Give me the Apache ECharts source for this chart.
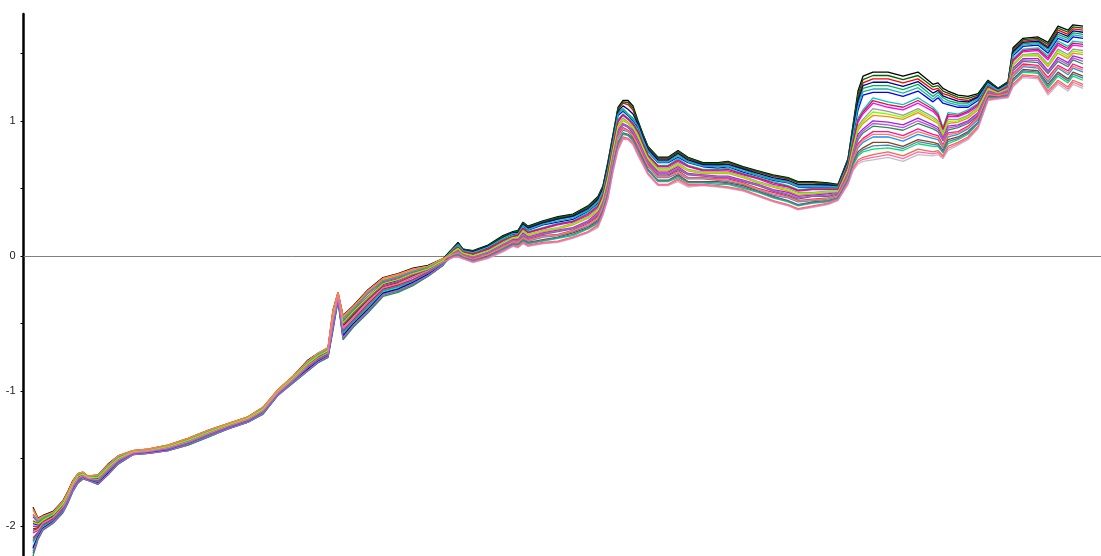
<!DOCTYPE html>
<html>
<head>
<meta charset="utf-8">
<title>Spectra</title>
<script src="https://cdn.jsdelivr.net/npm/echarts@6/dist/echarts.min.js"></script>
<style>
  html, body { margin: 0; padding: 0; background: #ffffff; }
  #chart { width: 1101px; height: 556px; }
</style>
</head>
<body>
<div id="chart"></div>
<script>
// Channel numbers (variable index along the spectrum)
const channel = [1,2,3,5,7,8,9,10,11,12,14,16,18,21,24,28,32,36,40,44,47,50,53,56,58,60,61,62,63,65,68,71,74,77,80,83,
  85,86,87,89,92,95,97,98,99,100,103,106,109,112,
  114,115,116,117,118,119,120,121,122,123,124,126,128,130,132,135,138,140,143,146,149,152,154,157,160,162,164,
  165,166,167,169,172,175,178,181,182,183,184,186,188,
  190,192,194,196,197,199,202,204,206,208,209,211];

// Pre-processed spectra, one array per sample
const S01 = [-1.86,-1.94,-1.92,-1.89,-1.81,-1.74,-1.66,-1.61,-1.60,-1.63,-1.62,-1.54,-1.48,-1.44,-1.43,-1.40,-1.35,-1.29,-1.24,-1.19,-1.12,-0.99,-0.89,-0.77,-0.72,-0.68,-0.40,-0.27,-0.44,-0.37,-0.25,-0.16,-0.13,-0.09,-0.07,-0.02,
  0.06,0.10,0.05,0.04,0.08,0.15,0.18,0.19,0.25,0.22,0.26,0.29,0.31,0.37,
  0.44,0.52,0.70,0.90,1.10,1.15,1.15,1.11,1.00,0.90,0.81,0.73,0.73,0.78,0.73,0.69,0.69,0.70,0.66,0.63,0.60,0.58,0.55,0.55,0.54,0.53,0.72,
  0.97,1.22,1.33,1.36,1.36,1.33,1.36,1.27,1.28,1.24,1.22,1.19,1.18,
  1.20,1.30,1.24,1.29,1.54,1.61,1.62,1.58,1.70,1.67,1.71,1.70];
const S02 = [-2.03,-2.02,-1.97,-1.93,-1.85,-1.78,-1.70,-1.64,-1.62,-1.64,-1.65,-1.58,-1.51,-1.45,-1.44,-1.42,-1.37,-1.31,-1.26,-1.21,-1.14,-1.01,-0.91,-0.81,-0.75,-0.71,-0.47,-0.30,-0.52,-0.45,-0.33,-0.23,-0.20,-0.15,-0.11,-0.04,
  0.05,0.09,0.05,0.03,0.07,0.14,0.17,0.18,0.24,0.21,0.25,0.28,0.30,0.36,
  0.43,0.51,0.68,0.88,1.08,1.13,1.12,1.08,0.98,0.89,0.80,0.72,0.72,0.77,0.72,0.68,0.68,0.69,0.65,0.62,0.59,0.57,0.54,0.54,0.53,0.52,0.71,
  0.94,1.17,1.28,1.31,1.31,1.28,1.31,1.23,1.24,1.20,1.19,1.16,1.15,
  1.18,1.29,1.24,1.28,1.52,1.59,1.60,1.55,1.67,1.64,1.68,1.67];
const S03 = [-2.20,-2.09,-2.02,-1.97,-1.89,-1.82,-1.74,-1.68,-1.65,-1.66,-1.69,-1.62,-1.54,-1.47,-1.46,-1.44,-1.40,-1.34,-1.28,-1.23,-1.17,-1.03,-0.94,-0.85,-0.79,-0.75,-0.54,-0.33,-0.61,-0.52,-0.41,-0.29,-0.26,-0.21,-0.15,-0.07,
  0.05,0.09,0.04,0.03,0.07,0.13,0.17,0.17,0.23,0.20,0.24,0.27,0.29,0.34,
  0.41,0.49,0.66,0.86,1.06,1.09,1.05,1.02,0.97,0.87,0.78,0.70,0.70,0.75,0.70,0.67,0.67,0.67,0.64,0.60,0.57,0.55,0.52,0.52,0.52,0.51,0.69,
  0.91,1.13,1.24,1.26,1.26,1.23,1.27,1.18,1.21,1.17,1.15,1.13,1.13,
  1.17,1.28,1.23,1.27,1.50,1.57,1.58,1.53,1.64,1.61,1.65,1.64];
const S04 = [-1.98,-1.99,-1.96,-1.92,-1.84,-1.77,-1.69,-1.63,-1.62,-1.64,-1.64,-1.57,-1.50,-1.45,-1.44,-1.41,-1.37,-1.31,-1.25,-1.20,-1.14,-1.00,-0.91,-0.80,-0.74,-0.70,-0.45,-0.29,-0.50,-0.42,-0.31,-0.21,-0.18,-0.13,-0.10,-0.04,
  0.05,0.08,0.04,0.02,0.06,0.13,0.16,0.16,0.22,0.19,0.23,0.25,0.27,0.33,
  0.39,0.48,0.64,0.84,1.04,1.07,1.04,1.00,0.95,0.85,0.77,0.69,0.69,0.73,0.69,0.66,0.65,0.66,0.62,0.59,0.56,0.54,0.51,0.51,0.51,0.51,0.68,
  0.88,1.08,1.19,1.21,1.21,1.18,1.22,1.14,1.17,1.13,1.12,1.10,1.10,
  1.15,1.27,1.22,1.27,1.48,1.55,1.56,1.50,1.61,1.58,1.62,1.61];
const S05 = [-2.15,-2.07,-2.01,-1.96,-1.88,-1.81,-1.72,-1.67,-1.64,-1.65,-1.68,-1.60,-1.53,-1.46,-1.45,-1.43,-1.39,-1.33,-1.27,-1.22,-1.16,-1.02,-0.93,-0.83,-0.78,-0.74,-0.52,-0.32,-0.58,-0.50,-0.39,-0.27,-0.24,-0.19,-0.13,-0.06,
  0.04,0.07,0.03,0.02,0.05,0.12,0.15,0.16,0.21,0.18,0.21,0.24,0.26,0.32,
  0.38,0.46,0.62,0.82,1.01,1.05,1.02,0.99,0.93,0.84,0.75,0.67,0.67,0.72,0.67,0.64,0.64,0.65,0.61,0.58,0.55,0.52,0.49,0.50,0.50,0.50,0.67,
  0.85,1.02,1.08,1.17,1.14,1.12,1.17,1.10,1.06,0.95,1.06,1.05,1.08,
  1.13,1.26,1.22,1.26,1.46,1.53,1.54,1.48,1.59,1.55,1.59,1.58];
const S06 = [-1.93,-1.97,-1.94,-1.91,-1.83,-1.76,-1.68,-1.62,-1.61,-1.64,-1.63,-1.56,-1.49,-1.45,-1.44,-1.41,-1.36,-1.30,-1.25,-1.20,-1.13,-1.00,-0.90,-0.79,-0.73,-0.69,-0.43,-0.28,-0.48,-0.40,-0.28,-0.19,-0.16,-0.12,-0.09,-0.03,
  0.04,0.06,0.03,0.01,0.05,0.11,0.14,0.15,0.20,0.17,0.20,0.23,0.25,0.30,
  0.36,0.45,0.61,0.81,0.99,1.04,1.01,0.97,0.91,0.82,0.74,0.66,0.66,0.70,0.66,0.63,0.63,0.63,0.60,0.57,0.53,0.51,0.48,0.49,0.49,0.49,0.66,
  0.83,0.99,1.05,1.13,1.10,1.08,1.13,1.07,1.03,0.93,1.03,1.03,1.06,
  1.11,1.25,1.21,1.25,1.44,1.51,1.52,1.45,1.56,1.52,1.56,1.55];
const S07 = [-2.10,-2.05,-1.99,-1.95,-1.87,-1.80,-1.71,-1.66,-1.63,-1.65,-1.67,-1.59,-1.52,-1.46,-1.45,-1.43,-1.38,-1.32,-1.27,-1.22,-1.15,-1.02,-0.92,-0.82,-0.77,-0.73,-0.50,-0.31,-0.56,-0.48,-0.36,-0.25,-0.22,-0.18,-0.12,-0.05,
  0.03,0.06,0.02,0.00,0.04,0.10,0.14,0.14,0.19,0.16,0.19,0.21,0.24,0.29,
  0.35,0.43,0.59,0.79,0.97,1.02,0.99,0.96,0.90,0.81,0.73,0.65,0.65,0.69,0.64,0.62,0.62,0.62,0.59,0.55,0.52,0.50,0.47,0.47,0.48,0.48,0.64,
  0.81,0.96,1.01,1.09,1.07,1.04,1.09,1.03,1.00,0.91,1.01,1.01,1.04,
  1.10,1.24,1.21,1.24,1.42,1.49,1.50,1.42,1.53,1.49,1.53,1.52];
const S08 = [-1.88,-1.95,-1.93,-1.90,-1.82,-1.75,-1.67,-1.61,-1.60,-1.63,-1.62,-1.55,-1.48,-1.44,-1.43,-1.40,-1.35,-1.29,-1.24,-1.19,-1.12,-0.99,-0.89,-0.78,-0.72,-0.68,-0.41,-0.27,-0.45,-0.38,-0.26,-0.17,-0.14,-0.10,-0.08,-0.02,
  0.03,0.05,0.02,0.00,0.03,0.09,0.13,0.13,0.18,0.15,0.18,0.20,0.23,0.28,
  0.33,0.42,0.57,0.77,0.95,1.00,0.98,0.94,0.88,0.79,0.71,0.63,0.63,0.67,0.63,0.61,0.61,0.61,0.58,0.54,0.51,0.48,0.45,0.46,0.47,0.47,0.63,
  0.79,0.93,0.98,1.04,1.03,1.01,1.06,1.00,0.98,0.89,0.98,0.99,1.02,
  1.08,1.23,1.20,1.23,1.41,1.48,1.48,1.40,1.50,1.46,1.50,1.49];
const S09 = [-2.05,-2.03,-1.98,-1.94,-1.86,-1.79,-1.70,-1.65,-1.63,-1.65,-1.66,-1.58,-1.51,-1.46,-1.45,-1.42,-1.38,-1.32,-1.26,-1.21,-1.15,-1.01,-0.92,-0.81,-0.76,-0.72,-0.48,-0.30,-0.54,-0.46,-0.34,-0.24,-0.21,-0.16,-0.11,-0.05,
  0.02,0.04,0.01,-0.01,0.03,0.09,0.12,0.12,0.17,0.14,0.17,0.19,0.21,0.26,
  0.32,0.40,0.55,0.75,0.93,0.98,0.96,0.93,0.86,0.78,0.70,0.62,0.62,0.66,0.61,0.60,0.59,0.59,0.56,0.53,0.49,0.47,0.44,0.45,0.46,0.47,0.62,
  0.77,0.90,0.94,1.00,0.99,0.97,1.02,0.97,0.95,0.87,0.96,0.97,1.00,
  1.06,1.22,1.20,1.23,1.39,1.46,1.46,1.37,1.47,1.43,1.48,1.46];
const S10 = [-2.22,-2.10,-2.03,-1.98,-1.90,-1.83,-1.74,-1.68,-1.65,-1.66,-1.69,-1.62,-1.54,-1.47,-1.46,-1.44,-1.40,-1.34,-1.28,-1.23,-1.17,-1.03,-0.94,-0.85,-0.79,-0.75,-0.55,-0.33,-0.62,-0.53,-0.42,-0.30,-0.27,-0.22,-0.15,-0.07,
  0.02,0.03,0.01,-0.01,0.02,0.08,0.11,0.11,0.15,0.13,0.16,0.18,0.20,0.25,
  0.30,0.39,0.53,0.73,0.91,0.97,0.95,0.91,0.84,0.76,0.68,0.60,0.60,0.64,0.60,0.59,0.58,0.58,0.55,0.52,0.48,0.45,0.42,0.44,0.44,0.46,0.61,
  0.75,0.86,0.91,0.96,0.95,0.93,0.98,0.94,0.92,0.85,0.93,0.95,0.98,
  1.04,1.21,1.19,1.22,1.37,1.44,1.43,1.35,1.44,1.40,1.45,1.42];
const S11 = [-2.00,-2.00,-1.96,-1.93,-1.85,-1.78,-1.69,-1.64,-1.62,-1.64,-1.65,-1.57,-1.50,-1.45,-1.44,-1.42,-1.37,-1.31,-1.26,-1.21,-1.14,-1.01,-0.91,-0.80,-0.75,-0.71,-0.46,-0.29,-0.51,-0.43,-0.32,-0.22,-0.19,-0.14,-0.10,-0.04,
  0.01,0.03,0.00,-0.02,0.01,0.07,0.11,0.10,0.14,0.12,0.15,0.16,0.19,0.24,
  0.29,0.37,0.51,0.71,0.89,0.95,0.93,0.90,0.83,0.75,0.67,0.59,0.59,0.63,0.58,0.58,0.57,0.57,0.54,0.50,0.47,0.44,0.41,0.42,0.43,0.45,0.59,
  0.73,0.83,0.87,0.92,0.92,0.89,0.94,0.90,0.89,0.82,0.91,0.92,0.96,
  1.03,1.20,1.19,1.21,1.35,1.42,1.41,1.32,1.41,1.37,1.42,1.39];
const S12 = [-2.17,-2.08,-2.02,-1.97,-1.89,-1.82,-1.73,-1.67,-1.64,-1.66,-1.68,-1.61,-1.53,-1.47,-1.46,-1.44,-1.39,-1.33,-1.28,-1.23,-1.16,-1.03,-0.93,-0.84,-0.78,-0.74,-0.53,-0.32,-0.60,-0.51,-0.40,-0.28,-0.25,-0.20,-0.14,-0.06,
  0.01,0.02,0.00,-0.03,0.01,0.06,0.10,0.10,0.13,0.11,0.14,0.15,0.18,0.22,
  0.27,0.36,0.49,0.69,0.87,0.93,0.92,0.88,0.81,0.73,0.66,0.58,0.58,0.61,0.57,0.57,0.56,0.55,0.53,0.49,0.45,0.43,0.40,0.41,0.42,0.44,0.58,
  0.71,0.80,0.84,0.88,0.88,0.85,0.90,0.87,0.86,0.80,0.88,0.90,0.94,
  1.01,1.19,1.18,1.20,1.33,1.40,1.39,1.29,1.39,1.34,1.39,1.36];
const S13 = [-1.96,-1.98,-1.95,-1.91,-1.83,-1.76,-1.68,-1.63,-1.61,-1.64,-1.64,-1.56,-1.50,-1.45,-1.44,-1.41,-1.36,-1.30,-1.25,-1.20,-1.13,-1.00,-0.90,-0.79,-0.74,-0.70,-0.44,-0.29,-0.49,-0.41,-0.30,-0.20,-0.17,-0.13,-0.09,-0.03,
  0.00,0.01,-0.01,-0.03,0.00,0.05,0.09,0.09,0.12,0.10,0.12,0.14,0.17,0.21,
  0.26,0.34,0.48,0.68,0.84,0.91,0.90,0.87,0.79,0.72,0.64,0.56,0.56,0.60,0.55,0.55,0.55,0.54,0.52,0.48,0.44,0.41,0.38,0.40,0.41,0.43,0.57,
  0.69,0.77,0.80,0.84,0.84,0.81,0.86,0.84,0.83,0.78,0.86,0.88,0.92,
  0.99,1.18,1.18,1.19,1.31,1.38,1.37,1.27,1.36,1.31,1.36,1.33];
const S14 = [-2.12,-2.06,-2.00,-1.96,-1.88,-1.81,-1.72,-1.66,-1.64,-1.65,-1.67,-1.60,-1.52,-1.46,-1.45,-1.43,-1.39,-1.33,-1.27,-1.22,-1.16,-1.02,-0.93,-0.83,-0.77,-0.73,-0.51,-0.31,-0.57,-0.49,-0.38,-0.26,-0.23,-0.19,-0.13,-0.06,
  0.00,0.01,-0.01,-0.04,-0.01,0.05,0.08,0.08,0.11,0.09,0.11,0.13,0.15,0.20,
  0.24,0.33,0.46,0.66,0.82,0.90,0.89,0.85,0.78,0.70,0.63,0.55,0.55,0.58,0.54,0.54,0.53,0.53,0.50,0.47,0.43,0.40,0.37,0.39,0.40,0.43,0.56,
  0.67,0.74,0.77,0.79,0.80,0.78,0.83,0.81,0.81,0.76,0.83,0.86,0.90,
  0.98,1.17,1.17,1.19,1.29,1.36,1.35,1.24,1.33,1.28,1.33,1.30];
const S15 = [-1.91,-1.96,-1.94,-1.90,-1.82,-1.75,-1.67,-1.62,-1.61,-1.63,-1.63,-1.55,-1.49,-1.44,-1.43,-1.41,-1.36,-1.30,-1.25,-1.20,-1.13,-1.00,-0.90,-0.78,-0.73,-0.69,-0.42,-0.28,-0.46,-0.39,-0.27,-0.18,-0.15,-0.11,-0.08,-0.03,
  -0.01,0.00,-0.02,-0.04,-0.01,0.04,0.08,0.07,0.10,0.08,0.10,0.11,0.14,0.18,
  0.23,0.32,0.44,0.64,0.80,0.88,0.87,0.84,0.76,0.69,0.61,0.53,0.53,0.57,0.53,0.53,0.52,0.51,0.49,0.45,0.41,0.38,0.35,0.37,0.39,0.42,0.54,
  0.65,0.71,0.73,0.75,0.77,0.74,0.79,0.77,0.78,0.74,0.81,0.84,0.88,
  0.96,1.16,1.17,1.18,1.27,1.34,1.33,1.22,1.30,1.25,1.30,1.27];
const S16 = [-2.08,-2.04,-1.99,-1.94,-1.86,-1.79,-1.71,-1.65,-1.63,-1.65,-1.66,-1.59,-1.52,-1.46,-1.45,-1.42,-1.38,-1.32,-1.26,-1.21,-1.15,-1.01,-0.92,-0.82,-0.76,-0.72,-0.49,-0.31,-0.55,-0.47,-0.35,-0.24,-0.21,-0.17,-0.12,-0.05,
  -0.01,-0.01,-0.02,-0.05,-0.02,0.03,0.07,0.06,0.09,0.07,0.09,0.10,0.13,0.17,
  0.21,0.30,0.42,0.62,0.78,0.86,0.86,0.82,0.74,0.67,0.60,0.52,0.52,0.55,0.51,0.52,0.51,0.50,0.48,0.44,0.40,0.37,0.34,0.36,0.38,0.41,0.53,
  0.63,0.68,0.70,0.71,0.73,0.70,0.75,0.74,0.75,0.72,0.78,0.82,0.86,
  0.94,1.15,1.16,1.17,1.25,1.32,1.31,1.19,1.27,1.22,1.27,1.24];
const S17 = [-2.02,-2.01,-1.97,-1.93,-1.85,-1.78,-1.70,-1.64,-1.62,-1.64,-1.65,-1.58,-1.51,-1.45,-1.44,-1.42,-1.37,-1.31,-1.26,-1.21,-1.14,-1.01,-0.91,-0.81,-0.75,-0.71,-0.47,-0.30,-0.52,-0.44,-0.33,-0.23,-0.20,-0.15,-0.11,-0.04,
  0.055,0.095,0.05,0.035,0.075,0.145,0.175,0.185,0.245,0.215,0.255,0.285,0.305,0.365,
  0.435,0.515,0.69,0.89,1.09,1.14,1.135,1.095,0.99,0.895,0.805,0.725,0.725,0.775,0.725,0.685,0.685,0.695,0.655,0.625,0.595,0.575,0.545,0.545,0.535,0.525,0.715,
  0.955,1.195,1.305,1.335,1.335,1.305,1.335,1.25,1.26,1.22,1.205,1.175,1.165,
  1.19,1.295,1.24,1.285,1.53,1.60,1.61,1.565,1.685,1.655,1.695,1.685];
const S18 = [-2.16,-2.075,-2.015,-1.965,-1.885,-1.815,-1.725,-1.67,-1.64,-1.655,-1.68,-1.605,-1.53,-1.465,-1.455,-1.435,-1.39,-1.33,-1.275,-1.225,-1.16,-1.025,-0.93,-0.835,-0.78,-0.74,-0.525,-0.32,-0.59,-0.505,-0.395,-0.275,-0.245,-0.195,-0.135,-0.06,
  0.05,0.09,0.045,0.03,0.07,0.135,0.17,0.175,0.235,0.205,0.245,0.275,0.295,0.35,
  0.42,0.50,0.67,0.87,1.07,1.11,1.085,1.05,0.975,0.88,0.79,0.71,0.71,0.76,0.71,0.675,0.675,0.68,0.645,0.61,0.58,0.56,0.53,0.53,0.525,0.515,0.70,
  0.925,1.15,1.26,1.285,1.285,1.255,1.29,1.205,1.225,1.185,1.17,1.145,1.14,
  1.175,1.285,1.235,1.275,1.51,1.58,1.59,1.54,1.655,1.625,1.665,1.655];
const S19 = [-1.92,-1.965,-1.94,-1.905,-1.825,-1.755,-1.675,-1.62,-1.61,-1.635,-1.63,-1.555,-1.49,-1.445,-1.435,-1.41,-1.36,-1.30,-1.25,-1.20,-1.13,-1.00,-0.90,-0.785,-0.73,-0.69,-0.425,-0.28,-0.47,-0.395,-0.275,-0.185,-0.155,-0.115,-0.085,-0.03,
  0.05,0.085,0.04,0.025,0.065,0.13,0.165,0.165,0.225,0.195,0.235,0.26,0.28,0.335,
  0.40,0.485,0.65,0.85,1.05,1.08,1.045,1.01,0.96,0.86,0.775,0.695,0.695,0.74,0.695,0.665,0.66,0.665,0.63,0.595,0.565,0.545,0.515,0.515,0.515,0.51,0.685,
  0.895,1.105,1.215,1.235,1.235,1.205,1.245,1.16,1.19,1.15,1.135,1.115,1.115,
  1.16,1.275,1.225,1.27,1.49,1.56,1.57,1.515,1.625,1.595,1.635,1.625];
const S20 = [-2.09,-2.045,-1.99,-1.945,-1.865,-1.795,-1.71,-1.655,-1.63,-1.65,-1.665,-1.59,-1.52,-1.46,-1.45,-1.425,-1.38,-1.32,-1.265,-1.215,-1.15,-1.015,-0.92,-0.82,-0.765,-0.725,-0.495,-0.31,-0.555,-0.475,-0.355,-0.245,-0.215,-0.175,-0.12,-0.05,
  0.04,0.065,0.03,0.015,0.05,0.115,0.145,0.155,0.205,0.175,0.205,0.235,0.255,0.31,
  0.37,0.455,0.615,0.815,1.00,1.045,1.015,0.98,0.92,0.83,0.745,0.665,0.665,0.71,0.665,0.635,0.635,0.64,0.605,0.575,0.54,0.515,0.485,0.495,0.495,0.495,0.665,
  0.84,1.005,1.065,1.15,1.12,1.10,1.15,1.085,1.045,0.94,1.045,1.04,1.07,
  1.12,1.255,1.215,1.255,1.45,1.52,1.53,1.465,1.575,1.535,1.575,1.565];
const S21 = [-1.97,-1.985,-1.955,-1.915,-1.835,-1.765,-1.685,-1.63,-1.615,-1.64,-1.64,-1.565,-1.50,-1.45,-1.44,-1.41,-1.365,-1.305,-1.25,-1.20,-1.135,-1.00,-0.905,-0.795,-0.74,-0.70,-0.445,-0.29,-0.495,-0.415,-0.305,-0.205,-0.175,-0.13,-0.095,-0.035,
  0.03,0.055,0.02,0.00,0.035,0.095,0.135,0.135,0.185,0.155,0.185,0.205,0.235,0.285,
  0.34,0.425,0.58,0.78,0.96,1.01,0.985,0.95,0.89,0.80,0.72,0.64,0.64,0.68,0.635,0.615,0.615,0.615,0.585,0.545,0.515,0.49,0.46,0.465,0.475,0.475,0.635,
  0.80,0.945,0.995,1.065,1.05,1.025,1.075,1.015,0.99,0.90,0.995,1.00,1.03,
  1.09,1.235,1.205,1.235,1.415,1.485,1.49,1.41,1.515,1.475,1.515,1.505];
const S22 = [-2.185,-2.085,-2.02,-1.97,-1.89,-1.82,-1.735,-1.675,-1.645,-1.66,-1.685,-1.615,-1.535,-1.47,-1.46,-1.44,-1.395,-1.335,-1.28,-1.23,-1.165,-1.03,-0.935,-0.845,-0.785,-0.745,-0.535,-0.325,-0.605,-0.515,-0.405,-0.285,-0.255,-0.205,-0.145,-0.065,
  0.02,0.035,0.01,-0.01,0.025,0.085,0.115,0.115,0.16,0.135,0.165,0.185,0.205,0.255,
  0.31,0.395,0.54,0.74,0.92,0.975,0.955,0.92,0.85,0.77,0.69,0.61,0.61,0.65,0.605,0.595,0.585,0.585,0.555,0.525,0.485,0.46,0.43,0.445,0.45,0.465,0.615,
  0.76,0.88,0.925,0.98,0.97,0.95,1.00,0.955,0.935,0.86,0.945,0.96,0.99,
  1.05,1.215,1.195,1.225,1.38,1.45,1.445,1.36,1.455,1.415,1.465,1.44];
const S23 = [-1.87,-1.945,-1.925,-1.895,-1.815,-1.745,-1.665,-1.61,-1.60,-1.63,-1.62,-1.545,-1.48,-1.44,-1.43,-1.40,-1.35,-1.29,-1.24,-1.19,-1.12,-0.99,-0.89,-0.775,-0.72,-0.68,-0.405,-0.27,-0.445,-0.375,-0.255,-0.165,-0.135,-0.095,-0.075,-0.02,
  0.01,0.025,0.00,-0.025,0.01,0.065,0.105,0.10,0.135,0.115,0.145,0.155,0.185,0.23,
  0.28,0.365,0.50,0.70,0.88,0.94,0.925,0.89,0.82,0.74,0.665,0.585,0.585,0.62,0.575,0.575,0.565,0.56,0.535,0.495,0.46,0.435,0.405,0.415,0.425,0.445,0.585,
  0.72,0.815,0.855,0.90,0.90,0.87,0.92,0.885,0.875,0.81,0.895,0.91,0.95,
  1.02,1.195,1.185,1.205,1.34,1.41,1.40,1.305,1.40,1.355,1.405,1.375];
const S24 = [-2.11,-2.055,-1.995,-1.955,-1.875,-1.805,-1.715,-1.66,-1.635,-1.65,-1.67,-1.595,-1.52,-1.46,-1.45,-1.43,-1.385,-1.325,-1.27,-1.22,-1.155,-1.02,-0.925,-0.825,-0.77,-0.73,-0.505,-0.31,-0.565,-0.485,-0.37,-0.255,-0.225,-0.185,-0.125,-0.055,
  0.00,0.01,-0.01,-0.035,-0.005,0.05,0.085,0.085,0.115,0.095,0.115,0.135,0.16,0.205,
  0.25,0.335,0.47,0.67,0.83,0.905,0.895,0.86,0.785,0.71,0.635,0.555,0.555,0.59,0.545,0.545,0.54,0.535,0.51,0.475,0.435,0.405,0.375,0.395,0.405,0.43,0.565,
  0.68,0.755,0.785,0.815,0.82,0.795,0.845,0.825,0.82,0.77,0.845,0.87,0.91,
  0.985,1.175,1.175,1.19,1.30,1.37,1.36,1.255,1.345,1.295,1.345,1.315];
const S25 = [-2.04,-2.025,-1.975,-1.935,-1.855,-1.785,-1.70,-1.645,-1.625,-1.645,-1.655,-1.58,-1.51,-1.455,-1.445,-1.42,-1.375,-1.315,-1.26,-1.21,-1.145,-1.01,-0.915,-0.81,-0.755,-0.715,-0.475,-0.30,-0.53,-0.455,-0.335,-0.235,-0.205,-0.155,-0.11,-0.045,
  -0.01,-0.005,-0.02,-0.045,-0.015,0.035,0.075,0.065,0.095,0.075,0.095,0.105,0.135,0.175,
  0.22,0.31,0.43,0.63,0.79,0.87,0.865,0.83,0.75,0.68,0.605,0.525,0.525,0.56,0.52,0.525,0.515,0.505,0.485,0.445,0.405,0.375,0.345,0.365,0.385,0.415,0.535,
  0.64,0.695,0.715,0.73,0.75,0.72,0.77,0.755,0.765,0.73,0.795,0.83,0.87,
  0.95,1.155,1.165,1.175,1.26,1.33,1.32,1.205,1.285,1.235,1.285,1.255];

const sampleNames = ['S01','S02','S03','S04','S05','S06','S07','S08','S09','S10','S11','S12','S13',
                     'S14','S15','S16','S17','S18','S19','S20','S21','S22','S23','S24','S25'];
const spectra = [S01,S02,S03,S04,S05,S06,S07,S08,S09,S10,S11,S12,S13,
                 S14,S15,S16,S17,S18,S19,S20,S21,S22,S23,S24,S25];

// Y axis ticks every 0.5, labels on whole numbers only
const yTicks = [-2, -1.5, -1, -0.5, 0, 0.5, 1, 1.5];
const yLabels = [-2, -1, 0, 1];

const lineColors = ['#000000','#ff0000','#00b050','#0000ff','#00c8c8','#ff00ff','#9a9a9a','#ff8c00',
                    '#a020f0','#2e8b57','#ff1493','#1e90ff','#8b4513','#00e070','#ff6347','#c0c0c0',
                    '#006400','#00008b','#20b2aa','#dc143c','#7cfc00','#ba55d3','#ff7f50','#4682b4','#ff69b4'];

const chart = echarts.init(document.getElementById('chart'), null, { renderer: 'canvas' });

const series = spectra.map((vals, k) => ({
  type: 'line',
  name: sampleNames[k],
  data: channel.map((c, i) => [c, vals[i]]),
  showSymbol: false,
  symbol: 'none',
  silent: true,
  lineStyle: { width: 1.3, color: lineColors[k] },
  z: 2
}));

chart.setOption({
  animation: false,
  backgroundColor: '#ffffff',
  grid: { left: 23.5, right: 0, top: 14, bottom: 0, containLabel: false },
  xAxis: {
    type: 'value',
    min: -0.9,
    max: 214.6,
    axisLine: { show: true, onZero: true, lineStyle: { color: '#808080', width: 1 } },
    axisTick: { show: false },
    axisLabel: { show: false },
    splitLine: { show: false }
  },
  yAxis: {
    type: 'value',
    min: -2.22,
    max: 1.79,
    axisLine: { show: true, onZero: false, lineStyle: { color: '#000000', width: 2.5 } },
    axisTick: { show: true, length: 3, inside: false, customValues: yTicks,
                lineStyle: { color: '#000000', width: 1 } },
    axisLabel: { customValues: yLabels, formatter: v => String(v), margin: 8,
                 fontSize: 11, color: '#222222', fontFamily: 'Liberation Sans, Arial, sans-serif' },
    splitLine: { show: false }
  },
  series: series
});
</script>
</body>
</html>
